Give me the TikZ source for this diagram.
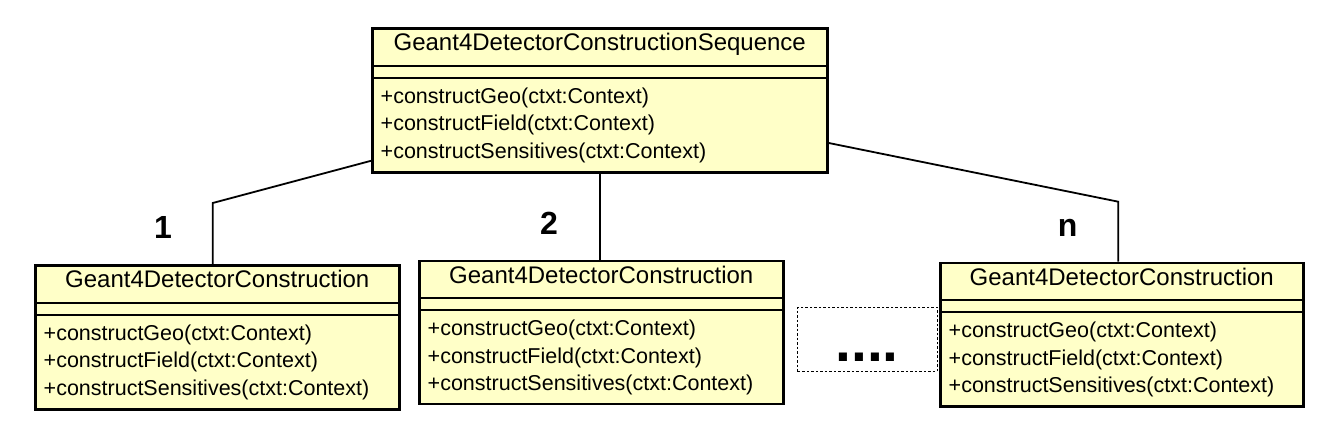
\documentclass[tikz,border=0pt]{standalone}
\usepackage{fontspec}
\setmainfont{Liberation Sans}
\definecolor{classfill}{RGB}{255,255,200}
\begin{document}
\begin{tikzpicture}[x=1pt,y=-1pt,
  classbox/.style={draw, line width=2.5pt, fill=classfill, inner sep=0pt, anchor=north west},
  sepline/.style={line width=2pt},
  ctitle/.style={font=\fontsize{24}{28}\selectfont, anchor=base, inner sep=0pt},
  cmeth/.style={font=\fontsize{21.5}{26}\selectfont, anchor=base west, inner sep=0pt},
  mult/.style={font=\bfseries\fontsize{32}{36}\selectfont, anchor=base, inner sep=0pt},
  conn/.style={line width=1.8pt},
  gapbox/.style={draw, line width=1pt, dash pattern=on 2.5pt off 2pt, inner sep=0pt, anchor=north west},
  gapdots/.style={font=\bfseries\fontsize{57}{60}\selectfont, anchor=base, inner sep=0pt}]
\useasboundingbox (0,0) rectangle (1319,423);
\fill[white] (0,0) rectangle (1319,423);

\foreach \n/\x/\y/\w/\h/\t in {
  top/371/27.3/455/144/Geant4DetectorConstructionSequence,
  c1/34/264/364/144/Geant4DetectorConstruction,
  c2/418/259.5/364/143/Geant4DetectorConstruction,
  cn/939/261.5/363/143.5/Geant4DetectorConstruction} {
  \node[classbox, minimum width=\w pt, minimum height=\h pt] (\n) at (\x,\y) {};
  \draw[sepline] ([yshift=-38.5pt]\n.north west) -- ([yshift=-38.5pt]\n.north east);
  \draw[sepline] ([yshift=-50.5pt]\n.north west) -- ([yshift=-50.5pt]\n.north east);
  \node[ctitle] (\n-title) at ([yshift=-23.5pt]\n.north) {\t};
  \node[cmeth] (\n-m1) at ([xshift=9.5pt,yshift=-76pt]\n.north west) {+constructGeo(ctxt:Context)};
  \node[cmeth] (\n-m2) at ([xshift=9.5pt,yshift=-103.5pt]\n.north west) {+constructField(ctxt:Context)};
  \node[cmeth] (\n-m3) at ([xshift=9.5pt,yshift=-131pt]\n.north west) {+constructSensitives(ctxt:Context)};
}

% connectors
\coordinate (k1) at (212.7,203);
\coordinate (kn) at (1118.3,201.7);
\draw[conn] ([yshift=13pt]top.south west) -- (k1) -- (k1 |- c1.north);
\draw[conn] ([xshift=0.5pt]top.south) -- ([xshift=0.5pt]top.south |- c2.north);
\draw[conn] ([yshift=-42.4pt]top.east) -- (kn) -- (kn |- cn.north);

% multiplicities
\node[mult] (mult1) at (163,238) {1};
\node[mult] (mult2) at (549,234) {2};
\node[mult] (multn) at (1067.7,236) {n};

% gap placeholder
\node[gapbox, minimum width=139.4pt, minimum height=64.3pt] (gap) at (797.3,306.7) {};
\node[gapdots] (gapdots) at (867,361) {....};
\end{tikzpicture}
\end{document}
